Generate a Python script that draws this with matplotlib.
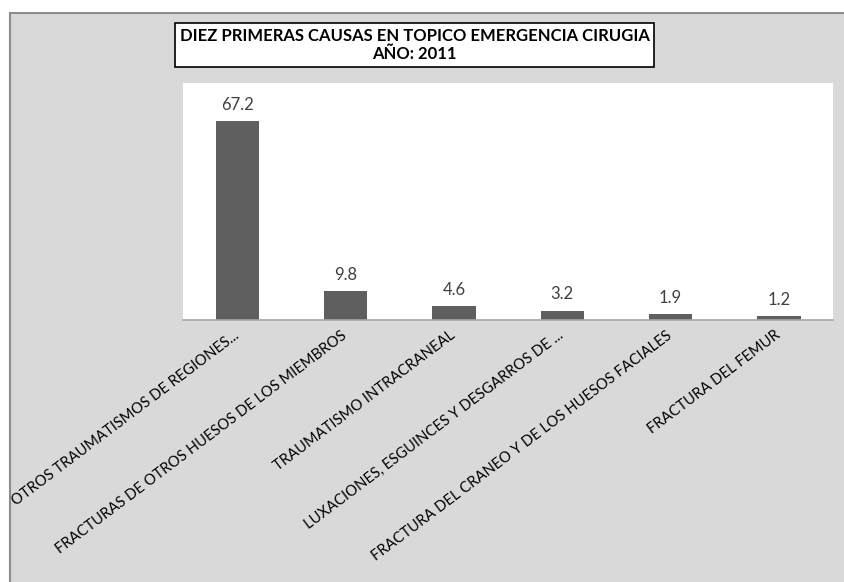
import matplotlib
matplotlib.use("Agg")
import matplotlib.pyplot as plt
from matplotlib.patches import Rectangle

categories = [
    "OTROS TRAUMATISMOS DE REGIONES...",
    "FRACTURAS DE OTROS HUESOS DE LOS MIEMBROS",
    "TRAUMATISMO INTRACRANEAL",
    "LUXACIONES, ESGUINCES Y DESGARROS DE ...",
    "FRACTURA DEL CRANEO Y DE LOS HUESOS FACIALES",
    "FRACTURA DEL FEMUR",
]
values = [67.2, 9.8, 4.6, 3.2, 1.9, 1.2]
value_labels = ["67.2", "9.8", "4.6", "3.2", "1.9", "1.2"]
title_lines = ["DIEZ PRIMERAS CAUSAS EN TOPICO EMERGENCIA CIRUGIA", "AÑO: 2011"]

W, H = 844, 582
fig = plt.figure(figsize=(W / 100, H / 100), dpi=100)
fig.patch.set_facecolor("white")

# outer chart area
bg = Rectangle((10 / W, -0.01), 1 - 10 / W + 0.01, 1 - 13 / H + 0.01,
               transform=fig.transFigure, facecolor="#d9d9d9",
               edgecolor="#8c8c8c", linewidth=1.5, zorder=-5)
fig.add_artist(bg)

ax = fig.add_axes([183 / W, 1 - 320 / H, (833 - 183) / W, (320 - 83) / H])
ax.set_zorder(1)
ax.set_facecolor("white")
x = range(len(values))
ax.bar(x, values, width=0.4, color="#5f5f5f", zorder=2)
ax.set_xlim(-0.5, len(values) - 0.5)
ax.set_ylim(0, 80)
for xi, v, lab in zip(x, values, value_labels):
    ax.annotate(lab, (xi, v), xytext=(0, 6), textcoords="offset points",
                ha="center", va="bottom", fontsize=12, color="#404040",
                family="Lato")
for s in ["top", "right", "left"]:
    ax.spines[s].set_visible(False)
ax.spines["bottom"].set_color("#a6a6a6")
ax.spines["bottom"].set_linewidth(1.2)
ax.set_yticks([])
ax.set_xticks(list(x))
ax.set_xticklabels(categories, rotation=37, ha="right", va="center",
                   rotation_mode="anchor", fontsize=10.6, family="Lato",
                   color="black")
ax.tick_params(axis="x", length=0, pad=10)

# title box
fig.text((170 + 659) / 2 / W, 1 - 45 / H, "\n".join(title_lines),
         ha="center", va="center", fontsize=12, fontweight="bold",
         family="Lato", linespacing=1.2, zorder=3,
         bbox=dict(boxstyle="square,pad=0.3", facecolor="white",
                   edgecolor="black", linewidth=1.2))

fig.savefig("out.png", dpi=100, facecolor=fig.get_facecolor())
